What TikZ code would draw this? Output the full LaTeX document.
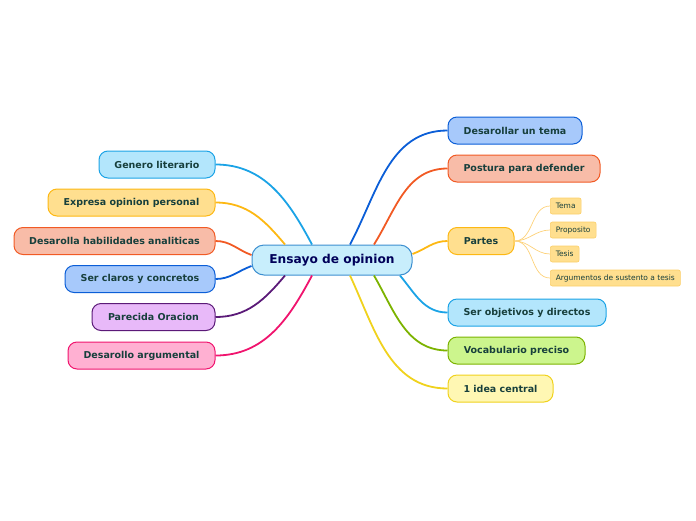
\documentclass[tikz,border=0pt]{standalone}
\usepackage{fontspec}
\setmainfont{DejaVu Sans}
\usetikzlibrary{arrows.meta}
\definecolor{txt}{HTML}{173F3C}
\definecolor{cenfill}{HTML}{C8EEFC}
\definecolor{cenline}{HTML}{3D8FD0}
\definecolor{cyfill}{HTML}{B3E6FC}
\definecolor{cyline}{HTML}{1BA3E6}
\definecolor{yefill}{HTML}{FFDF8F}
\definecolor{yeline}{HTML}{FDB813}
\definecolor{orfill}{HTML}{F8BCA8}
\definecolor{orline}{HTML}{F15A24}
\definecolor{blfill}{HTML}{A7C9FB}
\definecolor{blline}{HTML}{0B5ED7}
\definecolor{pufill}{HTML}{E8B9F9}
\definecolor{puline}{HTML}{5B1A78}
\definecolor{pifill}{HTML}{FFB0D2}
\definecolor{piline}{HTML}{F0146E}
\definecolor{grfill}{HTML}{CCF58D}
\definecolor{grline}{HTML}{7CB300}
\definecolor{lyfill}{HTML}{FFF7B3}
\definecolor{lyline}{HTML}{F0D21D}
\definecolor{subline}{HTML}{FBCF6A}
\definecolor{subwire}{HTML}{FDD27A}
\tikzset{topic/.style={draw, rounded corners=9pt, line width=1pt,
  inner sep=0pt, minimum height=27pt, text=txt,
  font=\fontsize{9.5}{11}\selectfont\bfseries},
  leaf/.style={draw=subline, fill=yefill, rounded corners=2pt,
  line width=0.6pt, inner xsep=5.5pt, inner ysep=0pt, minimum height=16pt,
  anchor=west, text=txt, font=\fontsize{7.5}{9}\selectfont},
  wire/.style={line width=1.8pt}}

\begin{document}
\begin{tikzpicture}[x=1pt, y=-1pt]
  \useasboundingbox (0,0) rectangle (696,520);
  \node[draw=cenline, fill=cenfill, rounded corners=12pt, line width=1pt,
    minimum width=160pt, minimum height=30pt, text=blue!35!black,
    font=\fontsize{12.2}{14}\selectfont\bfseries] (cen) at (332,260)
    {Ensayo de opinion};
  % left side
  \node[topic, draw=cyline, fill=cyfill, minimum width=116pt] (gen) at (157,164.5) {Genero literario};
  \node[topic, draw=yeline, fill=yefill, minimum width=167pt] (exp) at (131.5,202.5) {Expresa opinion personal};
  \node[topic, draw=orline, fill=orfill, minimum width=201pt] (hab) at (114.5,241) {Desarolla habilidades analiticas};
  \node[topic, draw=blline, fill=blfill, minimum width=150pt] (cla) at (140,279) {Ser claros y concretos};
  \node[topic, draw=puline, fill=pufill, minimum width=123pt] (ora) at (153.5,317) {Parecida Oracion};
  \node[topic, draw=piline, fill=pifill, minimum width=147pt] (arg) at (141.5,355.5) {Desarollo argumental};
  % right side
  \node[topic, draw=blline, fill=blfill, minimum width=134pt] (tem) at (515,130.5) {Desarollar un tema};
  \node[topic, draw=orline, fill=orfill, minimum width=152pt] (pos) at (524,168.5) {Postura para defender};
  \node[topic, draw=yeline, fill=yefill, minimum width=66pt] (par) at (481,241) {Partes};
  \node[topic, draw=cyline, fill=cyfill, minimum width=158pt] (obj) at (527,312.5) {Ser objetivos y directos};
  \node[topic, draw=grline, fill=grfill, minimum width=137pt] (voc) at (516.5,350.5) {Vocabulario preciso};
  \node[topic, draw=lyline, fill=lyfill, minimum width=105pt] (ide) at (500.5,388.5) {1 idea central};
  % partes
  \node[leaf] (ltem) at (550,206) {Tema};
  \node[leaf] (lpro) at (550,230) {Proposito};
  \node[leaf] (ltes) at (550,254) {Tesis};
  \node[leaf] (larg) at (550,278) {Argumentos de sustento a tesis};

  \draw[wire, cyline] ([xshift=-20pt]cen.north) to[out=118, in=0] (gen.east);
  \draw[wire, yeline] ([xshift=-47pt]cen.north) to[out=130, in=0] (exp.east);
  \draw[wire, orline] ([yshift=5pt]cen.west) to[out=160, in=0] (hab.east);
  \draw[wire, blline] ([yshift=-6pt]cen.west) to[out=200, in=0] (cla.east);
  \draw[wire, puline] ([xshift=-47pt]cen.south) to[out=230, in=0] (ora.east);
  \draw[wire, piline] ([xshift=-20pt]cen.south) to[out=242, in=0] (arg.east);
  \draw[wire, blline] ([xshift=18pt]cen.north) to[out=62, in=180] (tem.west);
  \draw[wire, orline] ([xshift=42pt]cen.north) to[out=58, in=180] (pos.west);
  \draw[wire, yeline] ([yshift=6pt]cen.east) to[out=20, in=180] (par.west);
  \draw[wire, cyline] ([xshift=68pt]cen.south) to[out=-50, in=180] (obj.west);
  \draw[wire, grline] ([xshift=42pt]cen.south) to[out=-60, in=180] (voc.west);
  \draw[wire, lyline] ([xshift=18pt]cen.south) to[out=-65, in=180] (ide.west);
  \foreach \s in {ltem, lpro, ltes, larg}
    \draw[subwire, line width=0.7pt] (par.east) to[out=0, in=180] (\s.west);
\end{tikzpicture}
\end{document}
